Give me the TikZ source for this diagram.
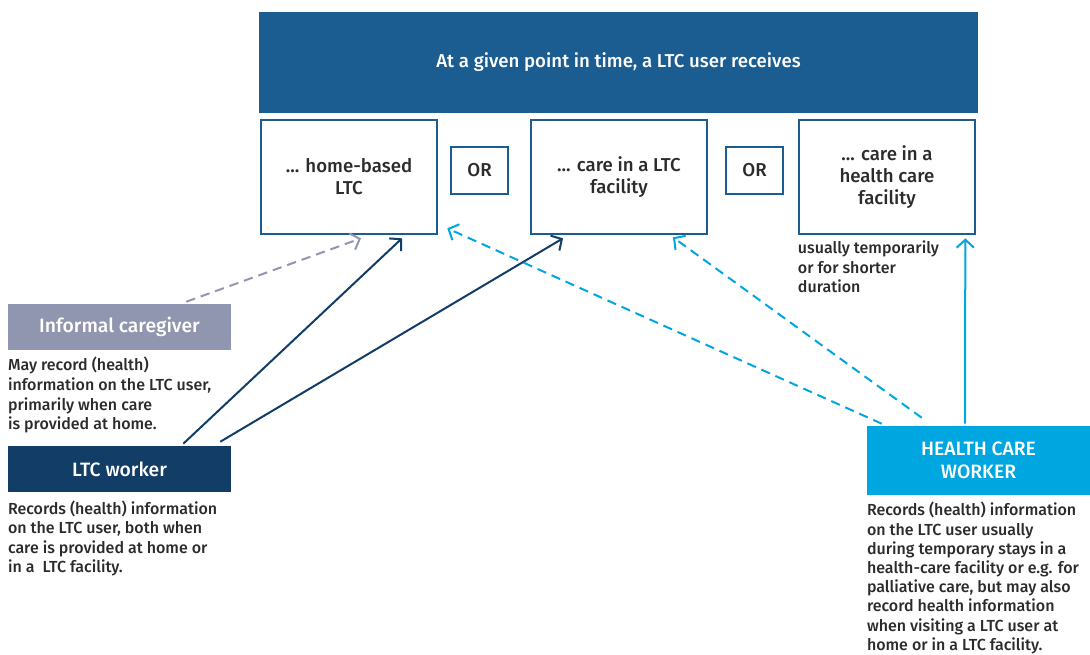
\documentclass[tikz,border=0pt]{standalone}
\usepackage{fontspec}
\setmainfont{Fira Sans}[BoldFont={Fira Sans Medium}]
\usetikzlibrary{positioning, calc, arrows.meta}

\definecolor{bannerblue}{HTML}{1B5C91}
\definecolor{informalgrey}{HTML}{9196B0}
\definecolor{ltcnavy}{HTML}{123D66}
\definecolor{hcwblue}{HTML}{00A6E0}
\definecolor{textgrey}{HTML}{2B2B2B}

\begin{document}
\begin{tikzpicture}[x=0.75pt, y=-0.75pt, >={Straight Barb[length=6pt,width=13pt]}]
        \tikzset{
            carebox/.style={draw=bannerblue, line width=2pt, minimum width=132pt, minimum height=85.5pt,
                align=center, text=textgrey, font=\fontsize{14}{16.5}\selectfont\bfseries},
            orbox/.style={draw=bannerblue, line width=2pt, minimum width=42.75pt, minimum height=35.25pt,
                text=textgrey, font=\fontsize{14}{15}\selectfont\bfseries},
            rolebox/.style={minimum width=167.25pt, minimum height=34.5pt, text=white, align=center,
                font=\fontsize{14.5}{17}\selectfont\bfseries},
            note/.style={inner sep=0pt, align=left, text=textgrey, font=\fontsize{12}{14.7}\selectfont\bfseries},
            link/.style={->, line width=1.5pt},
            dashlink/.style={link, dash pattern=on 7pt off 4.5pt}
        }
        \useasboundingbox (0,0) rectangle (1090,654);

        % What the LTC user receives
        \node[fill=bannerblue, minimum width=539.25pt, minimum height=75.75pt, text=white,
            font=\fontsize{14}{16}\selectfont\bfseries] (banner) at (618.5,62.5)
            {At a given point in time, a LTC user receives};
        \node[carebox] (home) at (349,177) {... home-based\\LTC};
        \node[orbox] (or_1) at (479.5,170.5) {OR};
        \node[carebox] (facility) at (619,177) {... care in a LTC\\facility};
        \node[orbox] (or_2) at (754.5,170.5) {OR};
        \node[carebox] (hospital) at (887,177) {... care in a\\health care\\facility};
        \node[note, below right=4pt and 0pt of hospital.south west] (hospital_note)
            {usually temporarily\\or for shorter\\duration};

        % Who records the information
        \node[rolebox, fill=informalgrey] (informal) at (119.5,327) {Informal caregiver};
        \node[note, below right=5pt and 0pt of informal.south west] (informal_note)
            {May record (health)\\information on the LTC user,\\primarily when care\\is provided at home.};
        \node[rolebox, fill=ltcnavy] (ltc) at (119.5,469) {LTC worker};
        \node[note, below right=6pt and 0pt of ltc.south west] (ltc_note)
            {Records (health) information\\on the LTC user, both when\\care is provided at home or\\in a \ LTC facility.};
        \node[rolebox, fill=hcwblue, minimum height=51.75pt] (hcw) at (978.5,460.5)
            {HEALTH CARE\\WORKER};
        \node[note, below right=5pt and 0pt of hcw.south west, font=\fontsize{12}{14.4}\selectfont\bfseries] (hcw_note)
            {Records (health) information\\on the LTC user usually\\during temporary stays in a\\health-care facility or e.g. for\\palliative care, but may also\\record health information\\when visiting a LTC user at\\home or in a LTC facility.};

        \draw[dashlink, informalgrey] ($(informal.north east)+(-45,-2)$) -- ($(home.south)+(12,3)$);
        \draw[link, ltcnavy] ($(ltc.north east)+(-48,-2)$) -- ($(home.south)+(53,3)$);
        \draw[link, ltcnavy] ($(ltc.north east)+(-11,-4)$) -- ($(facility.south)+(-56,3)$);
        \draw[dashlink, hcwblue] ($(hcw.north west)+(15,-2)$) -- ($(home.south east)+(9,-7)$);
        \draw[dashlink, hcwblue] ($(hcw.north west)+(55,-8)$) -- ($(facility.south)+(54,2)$);
        \draw[link, hcwblue] ($(hcw.north)+(-13.5,-2)$) -- ($(hospital.south east)+(-11,3)$);
    \end{tikzpicture}
\end{document}
